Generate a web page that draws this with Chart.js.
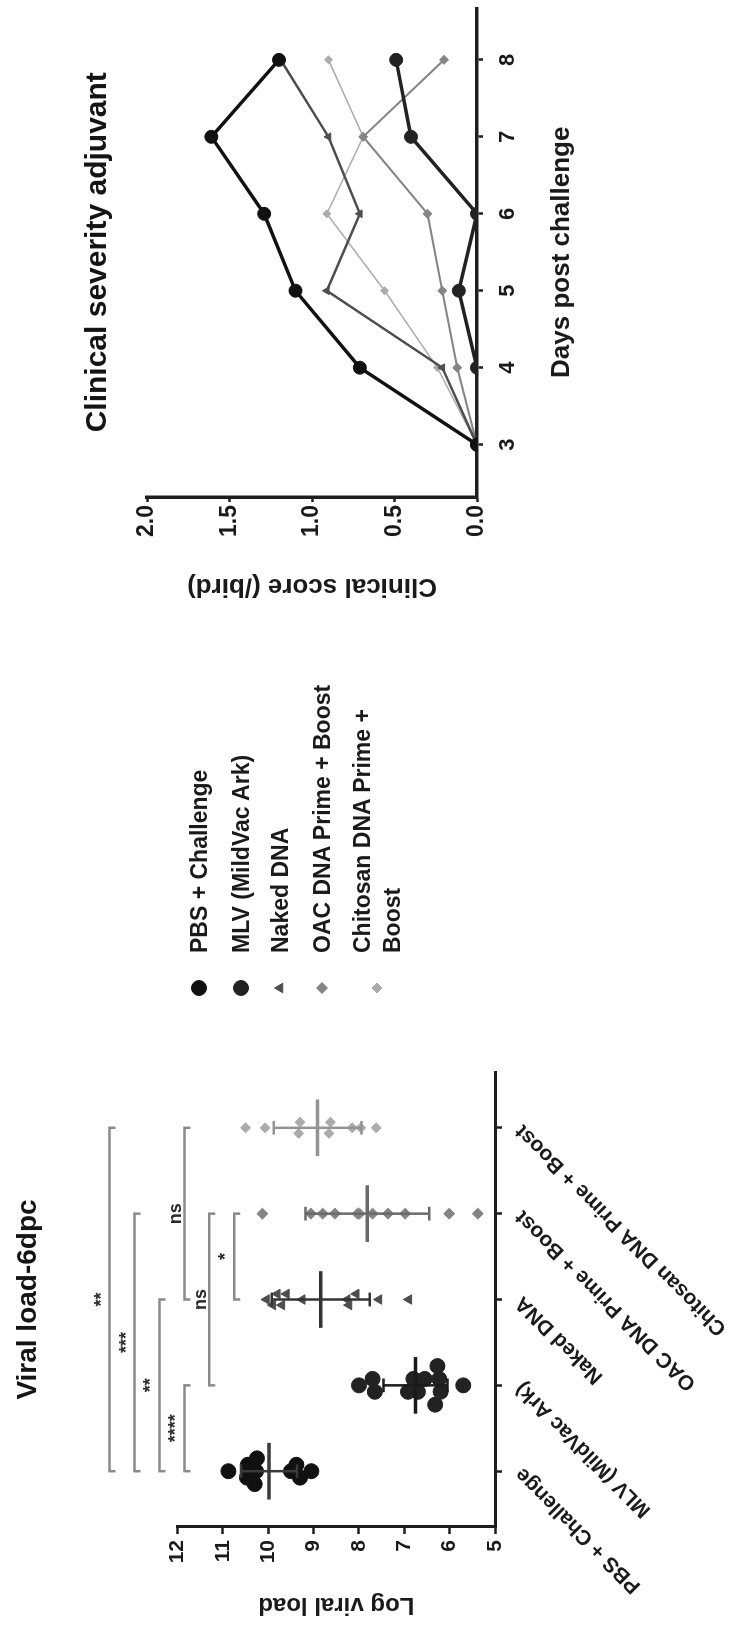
<!DOCTYPE html>
<html>
<head>
<meta charset="utf-8">
<script src="https://cdn.jsdelivr.net/npm/chart.js@4.4.1/dist/chart.umd.min.js"></script>
<style>
  html, body { margin: 0; padding: 0; background: #fff; }
  body { width: 731px; height: 1625px; overflow: hidden; position: relative; }
  /* the figure is laid out landscape, then given a quarter turn like the scan */
  #figure { position: absolute; left: 0; top: 0; width: 1625px; height: 731px;
            transform-origin: 0 0; transform: translate(0, 1625px) rotate(-90deg); }
  canvas { position: absolute; top: 0; }
  #viral { left: 0; }
  #severity { left: 1000px; }
  #legend { position: absolute; left: 622px; top: 0; color: #1a1a1a;
            font: bold 23px "Liberation Sans", Arial, sans-serif; }
  .item { position: absolute; left: 0; display: flex; align-items: center; white-space: nowrap; line-height: 30px; }
  .item canvas { position: static; margin-right: 20px; }
</style>
</head>
<body>
<div id="figure">
  <canvas id="viral" width="660" height="731"></canvas>
  <div id="legend"></div>
  <canvas id="severity" width="625" height="731"></canvas>
</div>
<script>
// groups, shared by both panels and the legend
const groups = ['PBS + Challenge', 'MLV (MildVac Ark)', 'Naked DNA', 'OAC DNA Prime + Boost', 'Chitosan DNA Prime + Boost'];
const legendText = ['PBS + Challenge', 'MLV (MildVac Ark)', 'Naked DNA', 'OAC DNA Prime + Boost', 'Chitosan DNA Prime +<br>Boost'];

// log viral load at 6 dpc, one value per bird
const pbsLoad = [10.88, 10.47, 10.45, 10.3, 10.27, 10.25, 9.5, 9.3, 9.05, 9.38];
const mlvLoad = [8.0, 7.65, 7.7, 6.92, 6.8, 6.7, 6.55, 6.32, 6.2, 6.23, 6.27, 5.7];
const nakedLoad = [10.04, 9.9, 9.8, 9.7, 9.6, 9.25, 8.26, 8.22, 8.06, 7.56, 6.9];
const oacLoad = [10.13, 9.06, 8.8, 8.53, 8.03, 7.99, 7.7, 7.36, 6.98, 6.01, 5.38];
const chitosanLoad = [10.5, 10.07, 9.33, 9.3, 8.66, 8.63, 8.15, 7.96, 7.62];
const loadTicks = [5, 6, 7, 8, 9, 10, 11, 12];

// multiple comparisons drawn as brackets over the dot plot
const sigPairs = [[0, 4], [0, 3], [0, 2], [0, 1], [2, 4], [1, 3], [2, 3]];
const sigLabels = ['**', '***', '**', '****', 'ns', 'ns', '*'];

// mean clinical score per bird, days 3-8 post challenge
const days = [3, 4, 5, 6, 7, 8];
const pbsScore = [0, 0.71, 1.10, 1.29, 1.61, 1.20];
const mlvScore = [0, 0, 0.11, 0, 0.40, 0.49];
const nakedScore = [0, 0.21, 0.91, 0.71, 0.90, 1.19];
const oacScore = [0, 0.12, 0.21, 0.30, 0.69, 0.20];
const chitosanScore = [0, 0.24, 0.56, 0.91, 0.69, 0.90];
const scoreTicks = [0, 0.5, 1.0, 1.5, 2.0];

const loads = [pbsLoad, mlvLoad, nakedLoad, oacLoad, chitosanLoad];
const scores = [pbsScore, mlvScore, nakedScore, oacScore, chitosanScore];

// one look per group (grey levels of the original print)
const looks = [
  { color: '#111111', style: 'circle',   r: 7.5, bar: '#3a3a3a', line: 3.5, bin: 0.3,  step: 0.15 },
  { color: '#222222', style: 'circle',   r: 7.5, bar: '#1a1a1a', line: 3.5, bin: 0.3,  step: 0.15 },
  { color: '#4e4e4e', style: 'triangle', r: 5.5, bar: '#333333', line: 2.5, bin: 0.22, step: 0.13 },
  { color: '#848484', style: 'rectRot',  r: 5.5, bar: '#6a6a6a', line: 2,   bin: 0.22, step: 0.13 },
  { color: '#ababab', style: 'rectRot',  r: 5,   bar: '#949494', line: 1.5, bin: 0.22, step: 0.13 }
];
const bracketRow = [5, 4, 3, 2, 2, 1, 0];

Chart.defaults.font.family = '"Liberation Sans", Arial, sans-serif';
Chart.defaults.font.weight = 'bold';
Chart.defaults.color = '#1a1a1a';

const mean = a => a.reduce((s, v) => s + v, 0) / a.length;
const sd = a => { const m = mean(a); return Math.sqrt(a.reduce((s, v) => s + (v - m) ** 2, 0) / (a.length - 1)); };

// scatter-dot layout: birds with close values share a row and are spread sideways
function spread(values, bin, step) {
  const rows = {};
  values.forEach((v, i) => { const k = Math.round(v / bin); (rows[k] = rows[k] || []).push(i); });
  const off = values.map(() => 0);
  Object.values(rows).forEach(idx => idx.forEach((i, j) => { off[i] = (j - (idx.length - 1) / 2) * step; }));
  return off;
}

const axisLine = { color: '#1e1e1e', width: 3 };
const tickGrid = { drawOnChartArea: false, drawTicks: true, tickLength: 7, tickWidth: 2.5, tickColor: '#1e1e1e' };

// ---------- viral load dot plot ----------
const viralSets = [];
loads.forEach((vals, i) => {
  const lk = looks[i];
  const off = spread(vals, lk.bin, lk.step);
  const m = mean(vals), s = sd(vals);
  viralSets.push({
    label: groups[i] + ' mean', showLine: true, pointRadius: 0, order: -2,
    borderColor: lk.bar, borderWidth: 3.5,
    data: [{ x: i - 0.33, y: m }, { x: i + 0.33, y: m }]
  });
  viralSets.push({
    label: groups[i] + ' SD', showLine: true, pointRadius: 0, order: -1, spanGaps: false,
    borderColor: lk.bar, borderWidth: 2.5,
    data: [{ x: i, y: m - s }, { x: i, y: m + s }, { x: i, y: null },
           { x: i - 0.08, y: m + s }, { x: i + 0.08, y: m + s }, { x: i, y: null },
           { x: i - 0.08, y: m - s }, { x: i + 0.08, y: m - s }]
  });
  viralSets.push({
    label: groups[i], order: i,
    pointStyle: lk.style, pointRadius: lk.r, backgroundColor: lk.color, borderColor: lk.color, borderWidth: 1,
    data: vals.map((v, k) => ({ x: i + off[k], y: v }))
  });
});

const brackets = {
  id: 'brackets',
  afterDraw(chart) {
    const { ctx, scales: { x, y } } = chart;
    ctx.save();
    ctx.strokeStyle = '#8a8a8a';
    ctx.lineWidth = 2.5;
    ctx.fillStyle = '#2a2a2a';
    ctx.font = 'bold 18px "Liberation Sans", Arial, sans-serif';
    ctx.textAlign = 'center';
    sigPairs.forEach(([a, b], k) => {
      const yy = y.getPixelForValue(10.75 + 0.55 * bracketRow[k]);
      const x1 = x.getPixelForValue(a), x2 = x.getPixelForValue(b);
      ctx.beginPath();
      ctx.moveTo(x1, yy + 6); ctx.lineTo(x1, yy); ctx.lineTo(x2, yy); ctx.lineTo(x2, yy + 6);
      ctx.stroke();
      ctx.fillText(sigLabels[k], (x1 + x2) / 2, yy - 3);
    });
    ctx.restore();
  }
};

new Chart(document.getElementById('viral'), {
  type: 'scatter',
  data: { datasets: viralSets },
  options: {
    responsive: false, animation: false, events: [],
    layout: { padding: { left: 0, right: 107, top: 0, bottom: 0 } },
    plugins: {
      legend: { display: false }, tooltip: { enabled: false },
      title: { display: true, text: 'Viral load-6dpc', fullSize: false, color: '#141414',
               font: { size: 28, weight: 'bold' }, padding: { top: 11, bottom: 133 } }
    },
    scales: {
      x: {
        type: 'linear', min: -0.65, max: groups.length - 0.35,
        afterBuildTicks: s => { s.ticks = groups.map((g, i) => ({ value: i })); },
        afterFit: s => { s.height = 236; },
        ticks: { callback: v => groups[v], autoSkip: false, minRotation: 45, maxRotation: 45,
                 padding: 8, font: { size: 21, weight: 'bold' } },
        grid: tickGrid, border: axisLine
      },
      y: {
        min: loadTicks[0], max: loadTicks[loadTicks.length - 1],
        afterBuildTicks: s => { s.ticks = loadTicks.map(v => ({ value: v })); },
        afterFit: s => { s.width = 98; },
        ticks: { padding: 6, font: { size: 21, weight: 'bold' } },
        title: { display: true, text: 'Log viral load', font: { size: 24, weight: 'bold' }, padding: { top: 6 } },
        grid: tickGrid, border: axisLine
      }
    }
  },
  plugins: [brackets]
});

// ---------- clinical severity lines ----------
new Chart(document.getElementById('severity'), {
  type: 'scatter',
  data: {
    datasets: scores.map((vals, i) => ({
      label: groups[i], showLine: true,
      borderColor: looks[i].color, borderWidth: looks[i].line,
      pointStyle: looks[i].style, pointRadius: looks[i].r - 1,
      backgroundColor: looks[i].color, pointBorderColor: looks[i].color, pointBorderWidth: 1,
      data: days.map((d, k) => ({ x: d, y: vals[k] }))
    }))
  },
  options: {
    responsive: false, animation: false, events: [],
    layout: { padding: { left: 0, right: 7, top: 0, bottom: 154 } },
    plugins: {
      legend: { display: false }, tooltip: { enabled: false },
      title: { display: true, text: 'Clinical severity adjuvant', fullSize: false, color: '#141414',
               font: { size: 30, weight: 'bold' }, padding: { top: 80, bottom: 31 } }
    },
    scales: {
      x: {
        type: 'linear', min: 2.32, max: 8.68,
        afterBuildTicks: s => { s.ticks = days.map(v => ({ value: v })); },
        afterFit: s => { s.height = 100; },
        ticks: { padding: 12, font: { size: 22, weight: 'bold' } },
        title: { display: true, text: 'Days post challenge', font: { size: 26, weight: 'bold' }, padding: 0 },
        grid: { ...tickGrid, tickLength: 6 }, border: { color: '#1e1e1e', width: 3.5 }
      },
      y: {
        min: scoreTicks[0], max: scoreTicks[scoreTicks.length - 1],
        afterBuildTicks: s => { s.ticks = scoreTicks.map(v => ({ value: v })); },
        afterFit: s => { s.width = 128; },
        ticks: { padding: 3, callback: v => v.toFixed(1), font: { size: 23, weight: 'bold' } },
        title: { display: true, text: 'Clinical score (/bird)', font: { size: 26, weight: 'bold' }, padding: { top: 23 } },
        grid: { ...tickGrid, tickLength: 5 }, border: { color: '#1e1e1e', width: 3.5 }
      }
    }
  }
});

// ---------- shared legend ----------
const legendTop = [184, 226, 265, 307, 347];
const legend = document.getElementById('legend');
groups.forEach((g, i) => {
  const row = document.createElement('div');
  row.className = 'item';
  row.style.top = legendTop[i] + 'px';
  const c = document.createElement('canvas');
  c.width = 30; c.height = 30;
  const cx = c.getContext('2d');
  cx.fillStyle = looks[i].color; cx.strokeStyle = looks[i].color; cx.lineWidth = 1;
  if (Chart.helpers && Chart.helpers.drawPoint) {
    Chart.helpers.drawPoint(cx, { pointStyle: looks[i].style, radius: looks[i].r, borderWidth: 1, rotation: 0 }, 15, 15);
  } else {
    cx.beginPath(); cx.arc(15, 15, looks[i].r, 0, Math.PI * 2); cx.fill();
  }
  const t = document.createElement('span');
  t.innerHTML = legendText[i];
  row.appendChild(c);
  row.appendChild(t);
  legend.appendChild(row);
});
</script>
</body>
</html>
